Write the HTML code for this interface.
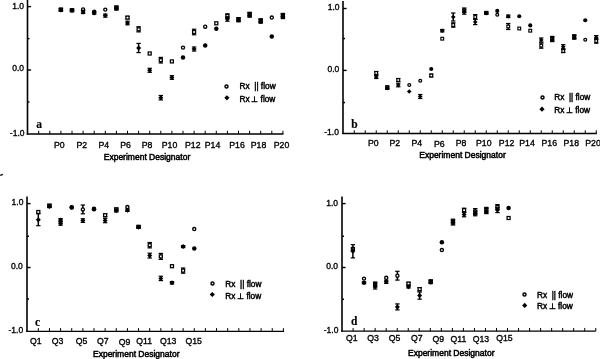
<!DOCTYPE html>
<html lang="en"><head><meta charset="utf-8"><title>Experiment Designator plots</title>
<style>
html,body{margin:0;padding:0;background:#fff;}
body{width:600px;height:359px;overflow:hidden;font-family:"Liberation Sans", sans-serif;}
svg{display:block;}
text{fill:#000;stroke:#000;stroke-width:0.35px;}
</style></head><body>
<svg width="600" height="359" viewBox="0 0 600 359" shape-rendering="geometricPrecision">
<rect width="600" height="359" fill="#fff"/>
<line x1="27.50" y1="0.00" x2="27.50" y2="134.60" stroke="#000" stroke-width="1.6"/>
<line x1="26.70" y1="134.00" x2="283.40" y2="134.00" stroke="#000" stroke-width="1.3"/>
<line x1="38.70" y1="134.00" x2="38.70" y2="130.80" stroke="#000" stroke-width="1.0"/>
<line x1="49.80" y1="134.00" x2="49.80" y2="130.80" stroke="#000" stroke-width="1.0"/>
<line x1="60.90" y1="134.00" x2="60.90" y2="130.80" stroke="#000" stroke-width="1.0"/>
<line x1="72.00" y1="134.00" x2="72.00" y2="130.80" stroke="#000" stroke-width="1.0"/>
<line x1="83.10" y1="134.00" x2="83.10" y2="130.80" stroke="#000" stroke-width="1.0"/>
<line x1="94.20" y1="134.00" x2="94.20" y2="130.80" stroke="#000" stroke-width="1.0"/>
<line x1="105.30" y1="134.00" x2="105.30" y2="130.80" stroke="#000" stroke-width="1.0"/>
<line x1="116.40" y1="134.00" x2="116.40" y2="130.80" stroke="#000" stroke-width="1.0"/>
<line x1="127.50" y1="134.00" x2="127.50" y2="130.80" stroke="#000" stroke-width="1.0"/>
<line x1="138.60" y1="134.00" x2="138.60" y2="130.80" stroke="#000" stroke-width="1.0"/>
<line x1="149.70" y1="134.00" x2="149.70" y2="130.80" stroke="#000" stroke-width="1.0"/>
<line x1="160.80" y1="134.00" x2="160.80" y2="130.80" stroke="#000" stroke-width="1.0"/>
<line x1="171.90" y1="134.00" x2="171.90" y2="130.80" stroke="#000" stroke-width="1.0"/>
<line x1="183.00" y1="134.00" x2="183.00" y2="130.80" stroke="#000" stroke-width="1.0"/>
<line x1="194.10" y1="134.00" x2="194.10" y2="130.80" stroke="#000" stroke-width="1.0"/>
<line x1="205.20" y1="134.00" x2="205.20" y2="130.80" stroke="#000" stroke-width="1.0"/>
<line x1="216.30" y1="134.00" x2="216.30" y2="130.80" stroke="#000" stroke-width="1.0"/>
<line x1="227.40" y1="134.00" x2="227.40" y2="130.80" stroke="#000" stroke-width="1.0"/>
<line x1="238.50" y1="134.00" x2="238.50" y2="130.80" stroke="#000" stroke-width="1.0"/>
<line x1="249.60" y1="134.00" x2="249.60" y2="130.80" stroke="#000" stroke-width="1.0"/>
<line x1="260.70" y1="134.00" x2="260.70" y2="130.80" stroke="#000" stroke-width="1.0"/>
<line x1="271.80" y1="134.00" x2="271.80" y2="130.80" stroke="#000" stroke-width="1.0"/>
<line x1="282.90" y1="134.00" x2="282.90" y2="130.80" stroke="#000" stroke-width="1.0"/>
<line x1="27.50" y1="6.60" x2="31.10" y2="6.60" stroke="#000" stroke-width="1.4"/>
<line x1="27.50" y1="38.60" x2="29.50" y2="38.60" stroke="#000" stroke-width="1.4"/>
<line x1="27.50" y1="70.00" x2="31.10" y2="70.00" stroke="#000" stroke-width="1.4"/>
<line x1="27.50" y1="102.00" x2="29.50" y2="102.00" stroke="#000" stroke-width="1.4"/>
<text x="59.25" y="148.00" font-size="8.7" text-anchor="middle" font-weight="normal" font-family='"Liberation Sans", sans-serif' >P0</text>
<text x="81.75" y="148.00" font-size="8.7" text-anchor="middle" font-weight="normal" font-family='"Liberation Sans", sans-serif' >P2</text>
<text x="103.75" y="148.00" font-size="8.7" text-anchor="middle" font-weight="normal" font-family='"Liberation Sans", sans-serif' >P4</text>
<text x="125.50" y="148.00" font-size="8.7" text-anchor="middle" font-weight="normal" font-family='"Liberation Sans", sans-serif' >P6</text>
<text x="147.00" y="148.00" font-size="8.7" text-anchor="middle" font-weight="normal" font-family='"Liberation Sans", sans-serif' >P8</text>
<text x="169.50" y="148.00" font-size="8.7" text-anchor="middle" font-weight="normal" font-family='"Liberation Sans", sans-serif' >P10</text>
<text x="192.80" y="148.00" font-size="8.7" text-anchor="middle" font-weight="normal" font-family='"Liberation Sans", sans-serif' >P12</text>
<text x="212.50" y="148.00" font-size="8.7" text-anchor="middle" font-weight="normal" font-family='"Liberation Sans", sans-serif' >P14</text>
<text x="237.00" y="148.00" font-size="8.7" text-anchor="middle" font-weight="normal" font-family='"Liberation Sans", sans-serif' >P16</text>
<text x="258.50" y="148.00" font-size="8.7" text-anchor="middle" font-weight="normal" font-family='"Liberation Sans", sans-serif' >P18</text>
<text x="281.50" y="148.00" font-size="8.7" text-anchor="middle" font-weight="normal" font-family='"Liberation Sans", sans-serif' >P20</text>
<text x="103.75" y="159.65" font-size="8.5" text-anchor="start" font-weight="normal" font-family='"Liberation Sans", sans-serif' style="stroke-width:0.5px">Experiment Designator</text>
<text x="39.00" y="128.00" font-size="11.5" text-anchor="middle" font-weight="bold" font-family='"Liberation Serif", serif' style="stroke-width:0.15px">a</text>
<text x="24.00" y="9.00" font-size="8.5" text-anchor="end" font-weight="normal" font-family='"Liberation Sans", sans-serif' >1.0</text>
<text x="24.00" y="71.40" font-size="8.5" text-anchor="end" font-weight="normal" font-family='"Liberation Sans", sans-serif' >0.0</text>
<text x="24.50" y="135.80" font-size="8.5" text-anchor="end" font-weight="normal" font-family='"Liberation Sans", sans-serif' >-1.0</text>
<circle cx="226.50" cy="86.50" r="1.50" fill="#fff" stroke="#000" stroke-width="1.50"/>
<path d="M226.90 95.20L229.50 97.80L226.90 100.40L224.30 97.80Z" fill="#000"/>
<text x="239.50" y="89.20" font-size="8.3" text-anchor="start" font-weight="normal" font-family='"Liberation Sans", sans-serif' style="stroke-width:0.45px">Rx&#160;&#160;|| flow</text>
<text x="239.50" y="101.60" font-size="8.3" text-anchor="start" font-weight="normal" font-family='"Liberation Sans", sans-serif' style="stroke-width:0.45px">Rx&#8201;&#8869;&#160;flow</text>
<line x1="60.90" y1="8.40" x2="60.90" y2="10.80" stroke="#000" stroke-width="1.5"/>
<line x1="58.70" y1="8.40" x2="63.10" y2="8.40" stroke="#000" stroke-width="1.2"/>
<line x1="58.70" y1="10.80" x2="63.10" y2="10.80" stroke="#000" stroke-width="1.2"/>
<rect x="59.40" y="8.10" width="3.00" height="3.00" fill="#fff" stroke="#000" stroke-width="1.25"/>
<line x1="60.90" y1="8.70" x2="60.90" y2="11.10" stroke="#000" stroke-width="1.5"/>
<line x1="58.70" y1="8.70" x2="63.10" y2="8.70" stroke="#000" stroke-width="1.2"/>
<line x1="58.70" y1="11.10" x2="63.10" y2="11.10" stroke="#000" stroke-width="1.2"/>
<path d="M60.90 7.40L63.40 9.90L60.90 12.40L58.40 9.90Z" fill="#000"/>
<line x1="72.00" y1="9.20" x2="72.00" y2="11.20" stroke="#000" stroke-width="1.5"/>
<line x1="69.80" y1="9.20" x2="74.20" y2="9.20" stroke="#000" stroke-width="1.2"/>
<line x1="69.80" y1="11.20" x2="74.20" y2="11.20" stroke="#000" stroke-width="1.2"/>
<rect x="70.50" y="8.70" width="3.00" height="3.00" fill="#fff" stroke="#000" stroke-width="1.25"/>
<line x1="72.00" y1="9.60" x2="72.00" y2="11.60" stroke="#000" stroke-width="1.5"/>
<line x1="69.80" y1="9.60" x2="74.20" y2="9.60" stroke="#000" stroke-width="1.2"/>
<line x1="69.80" y1="11.60" x2="74.20" y2="11.60" stroke="#000" stroke-width="1.2"/>
<path d="M72.00 8.10L74.50 10.60L72.00 13.10L69.50 10.60Z" fill="#000"/>
<circle cx="83.10" cy="9.40" r="1.55" fill="#fff" stroke="#000" stroke-width="1.35"/>
<line x1="83.10" y1="10.50" x2="83.10" y2="13.50" stroke="#000" stroke-width="1.5"/>
<line x1="80.90" y1="10.50" x2="85.30" y2="10.50" stroke="#000" stroke-width="1.2"/>
<line x1="80.90" y1="13.50" x2="85.30" y2="13.50" stroke="#000" stroke-width="1.2"/>
<path d="M83.10 9.50L85.60 12.00L83.10 14.50L80.60 12.00Z" fill="#000"/>
<circle cx="94.20" cy="11.60" r="1.55" fill="#fff" stroke="#000" stroke-width="1.35"/>
<line x1="94.20" y1="11.80" x2="94.20" y2="14.20" stroke="#000" stroke-width="1.5"/>
<line x1="92.00" y1="11.80" x2="96.40" y2="11.80" stroke="#000" stroke-width="1.2"/>
<line x1="92.00" y1="14.20" x2="96.40" y2="14.20" stroke="#000" stroke-width="1.2"/>
<path d="M94.20 10.50L96.70 13.00L94.20 15.50L91.70 13.00Z" fill="#000"/>
<circle cx="105.30" cy="9.60" r="1.55" fill="#fff" stroke="#000" stroke-width="1.35"/>
<line x1="105.30" y1="14.10" x2="105.30" y2="17.10" stroke="#000" stroke-width="1.5"/>
<line x1="103.10" y1="14.10" x2="107.50" y2="14.10" stroke="#000" stroke-width="1.2"/>
<line x1="103.10" y1="17.10" x2="107.50" y2="17.10" stroke="#000" stroke-width="1.2"/>
<path d="M105.30 13.10L107.80 15.60L105.30 18.10L102.80 15.60Z" fill="#000"/>
<line x1="116.40" y1="6.10" x2="116.40" y2="9.10" stroke="#000" stroke-width="1.5"/>
<line x1="114.20" y1="6.10" x2="118.60" y2="6.10" stroke="#000" stroke-width="1.2"/>
<line x1="114.20" y1="9.10" x2="118.60" y2="9.10" stroke="#000" stroke-width="1.2"/>
<rect x="114.90" y="6.10" width="3.00" height="3.00" fill="#fff" stroke="#000" stroke-width="1.25"/>
<line x1="116.40" y1="7.10" x2="116.40" y2="10.10" stroke="#000" stroke-width="1.5"/>
<line x1="114.20" y1="7.10" x2="118.60" y2="7.10" stroke="#000" stroke-width="1.2"/>
<line x1="114.20" y1="10.10" x2="118.60" y2="10.10" stroke="#000" stroke-width="1.2"/>
<path d="M116.40 6.10L118.90 8.60L116.40 11.10L113.90 8.60Z" fill="#000"/>
<line x1="127.50" y1="16.40" x2="127.50" y2="18.80" stroke="#000" stroke-width="1.5"/>
<line x1="125.30" y1="16.40" x2="129.70" y2="16.40" stroke="#000" stroke-width="1.2"/>
<line x1="125.30" y1="18.80" x2="129.70" y2="18.80" stroke="#000" stroke-width="1.2"/>
<rect x="126.00" y="16.10" width="3.00" height="3.00" fill="#fff" stroke="#000" stroke-width="1.25"/>
<line x1="127.50" y1="21.20" x2="127.50" y2="24.80" stroke="#000" stroke-width="1.5"/>
<line x1="125.30" y1="21.20" x2="129.70" y2="21.20" stroke="#000" stroke-width="1.2"/>
<line x1="125.30" y1="24.80" x2="129.70" y2="24.80" stroke="#000" stroke-width="1.2"/>
<path d="M127.50 20.50L130.00 23.00L127.50 25.50L125.00 23.00Z" fill="#000"/>
<line x1="138.60" y1="26.70" x2="138.60" y2="31.90" stroke="#000" stroke-width="1.5"/>
<line x1="136.40" y1="26.70" x2="140.80" y2="26.70" stroke="#000" stroke-width="1.2"/>
<line x1="136.40" y1="31.90" x2="140.80" y2="31.90" stroke="#000" stroke-width="1.2"/>
<rect x="137.10" y="27.80" width="3.00" height="3.00" fill="#fff" stroke="#000" stroke-width="1.25"/>
<line x1="138.60" y1="43.40" x2="138.60" y2="52.60" stroke="#000" stroke-width="1.5"/>
<line x1="136.40" y1="43.40" x2="140.80" y2="43.40" stroke="#000" stroke-width="1.2"/>
<line x1="136.40" y1="52.60" x2="140.80" y2="52.60" stroke="#000" stroke-width="1.2"/>
<path d="M138.60 45.50L141.10 48.00L138.60 50.50L136.10 48.00Z" fill="#000"/>
<rect x="148.20" y="52.00" width="3.00" height="3.00" fill="#fff" stroke="#000" stroke-width="1.25"/>
<line x1="149.70" y1="68.30" x2="149.70" y2="72.30" stroke="#000" stroke-width="1.5"/>
<line x1="147.50" y1="68.30" x2="151.90" y2="68.30" stroke="#000" stroke-width="1.2"/>
<line x1="147.50" y1="72.30" x2="151.90" y2="72.30" stroke="#000" stroke-width="1.2"/>
<path d="M149.70 67.80L152.20 70.30L149.70 72.80L147.20 70.30Z" fill="#000"/>
<line x1="160.80" y1="57.40" x2="160.80" y2="63.00" stroke="#000" stroke-width="1.5"/>
<line x1="158.60" y1="57.40" x2="163.00" y2="57.40" stroke="#000" stroke-width="1.2"/>
<line x1="158.60" y1="63.00" x2="163.00" y2="63.00" stroke="#000" stroke-width="1.2"/>
<rect x="159.30" y="58.70" width="3.00" height="3.00" fill="#fff" stroke="#000" stroke-width="1.25"/>
<line x1="160.80" y1="95.50" x2="160.80" y2="99.90" stroke="#000" stroke-width="1.5"/>
<line x1="158.60" y1="95.50" x2="163.00" y2="95.50" stroke="#000" stroke-width="1.2"/>
<line x1="158.60" y1="99.90" x2="163.00" y2="99.90" stroke="#000" stroke-width="1.2"/>
<path d="M160.80 95.20L163.30 97.70L160.80 100.20L158.30 97.70Z" fill="#000"/>
<rect x="170.40" y="59.90" width="3.00" height="3.00" fill="#fff" stroke="#000" stroke-width="1.25"/>
<line x1="171.90" y1="75.70" x2="171.90" y2="79.30" stroke="#000" stroke-width="1.5"/>
<line x1="169.70" y1="75.70" x2="174.10" y2="75.70" stroke="#000" stroke-width="1.2"/>
<line x1="169.70" y1="79.30" x2="174.10" y2="79.30" stroke="#000" stroke-width="1.2"/>
<path d="M171.90 75.00L174.40 77.50L171.90 80.00L169.40 77.50Z" fill="#000"/>
<circle cx="183.00" cy="47.60" r="1.55" fill="#fff" stroke="#000" stroke-width="1.35"/>
<circle cx="183.00" cy="57.60" r="2.25" fill="#000"/>
<line x1="194.10" y1="29.20" x2="194.10" y2="34.80" stroke="#000" stroke-width="1.5"/>
<line x1="191.90" y1="29.20" x2="196.30" y2="29.20" stroke="#000" stroke-width="1.2"/>
<line x1="191.90" y1="34.80" x2="196.30" y2="34.80" stroke="#000" stroke-width="1.2"/>
<rect x="192.60" y="30.50" width="3.00" height="3.00" fill="#fff" stroke="#000" stroke-width="1.25"/>
<line x1="194.10" y1="47.00" x2="194.10" y2="51.00" stroke="#000" stroke-width="1.5"/>
<line x1="191.90" y1="47.00" x2="196.30" y2="47.00" stroke="#000" stroke-width="1.2"/>
<line x1="191.90" y1="51.00" x2="196.30" y2="51.00" stroke="#000" stroke-width="1.2"/>
<path d="M194.10 46.50L196.60 49.00L194.10 51.50L191.60 49.00Z" fill="#000"/>
<circle cx="205.20" cy="26.70" r="1.55" fill="#fff" stroke="#000" stroke-width="1.35"/>
<circle cx="205.20" cy="45.40" r="2.25" fill="#000"/>
<rect x="214.80" y="21.80" width="3.00" height="3.00" fill="#fff" stroke="#000" stroke-width="1.25"/>
<circle cx="216.30" cy="28.80" r="2.25" fill="#000"/>
<line x1="227.40" y1="13.80" x2="227.40" y2="18.20" stroke="#000" stroke-width="1.5"/>
<line x1="225.20" y1="13.80" x2="229.60" y2="13.80" stroke="#000" stroke-width="1.2"/>
<line x1="225.20" y1="18.20" x2="229.60" y2="18.20" stroke="#000" stroke-width="1.2"/>
<rect x="225.90" y="14.50" width="3.00" height="3.00" fill="#fff" stroke="#000" stroke-width="1.25"/>
<line x1="227.40" y1="16.80" x2="227.40" y2="21.20" stroke="#000" stroke-width="1.5"/>
<line x1="225.20" y1="16.80" x2="229.60" y2="16.80" stroke="#000" stroke-width="1.2"/>
<line x1="225.20" y1="21.20" x2="229.60" y2="21.20" stroke="#000" stroke-width="1.2"/>
<path d="M227.40 16.50L229.90 19.00L227.40 21.50L224.90 19.00Z" fill="#000"/>
<line x1="238.50" y1="17.60" x2="238.50" y2="21.20" stroke="#000" stroke-width="1.5"/>
<line x1="236.30" y1="17.60" x2="240.70" y2="17.60" stroke="#000" stroke-width="1.2"/>
<line x1="236.30" y1="21.20" x2="240.70" y2="21.20" stroke="#000" stroke-width="1.2"/>
<rect x="237.00" y="17.90" width="3.00" height="3.00" fill="#fff" stroke="#000" stroke-width="1.25"/>
<line x1="238.50" y1="18.20" x2="238.50" y2="21.80" stroke="#000" stroke-width="1.5"/>
<line x1="236.30" y1="18.20" x2="240.70" y2="18.20" stroke="#000" stroke-width="1.2"/>
<line x1="236.30" y1="21.80" x2="240.70" y2="21.80" stroke="#000" stroke-width="1.2"/>
<path d="M238.50 17.50L241.00 20.00L238.50 22.50L236.00 20.00Z" fill="#000"/>
<line x1="249.60" y1="12.30" x2="249.60" y2="16.30" stroke="#000" stroke-width="1.5"/>
<line x1="247.40" y1="12.30" x2="251.80" y2="12.30" stroke="#000" stroke-width="1.2"/>
<line x1="247.40" y1="16.30" x2="251.80" y2="16.30" stroke="#000" stroke-width="1.2"/>
<rect x="248.10" y="12.80" width="3.00" height="3.00" fill="#fff" stroke="#000" stroke-width="1.25"/>
<line x1="249.60" y1="13.20" x2="249.60" y2="17.20" stroke="#000" stroke-width="1.5"/>
<line x1="247.40" y1="13.20" x2="251.80" y2="13.20" stroke="#000" stroke-width="1.2"/>
<line x1="247.40" y1="17.20" x2="251.80" y2="17.20" stroke="#000" stroke-width="1.2"/>
<path d="M249.60 12.70L252.10 15.20L249.60 17.70L247.10 15.20Z" fill="#000"/>
<line x1="260.70" y1="18.80" x2="260.70" y2="22.40" stroke="#000" stroke-width="1.5"/>
<line x1="258.50" y1="18.80" x2="262.90" y2="18.80" stroke="#000" stroke-width="1.2"/>
<line x1="258.50" y1="22.40" x2="262.90" y2="22.40" stroke="#000" stroke-width="1.2"/>
<rect x="259.20" y="19.10" width="3.00" height="3.00" fill="#fff" stroke="#000" stroke-width="1.25"/>
<line x1="260.70" y1="19.60" x2="260.70" y2="23.20" stroke="#000" stroke-width="1.5"/>
<line x1="258.50" y1="19.60" x2="262.90" y2="19.60" stroke="#000" stroke-width="1.2"/>
<line x1="258.50" y1="23.20" x2="262.90" y2="23.20" stroke="#000" stroke-width="1.2"/>
<path d="M260.70 18.90L263.20 21.40L260.70 23.90L258.20 21.40Z" fill="#000"/>
<circle cx="271.80" cy="17.50" r="1.55" fill="#fff" stroke="#000" stroke-width="1.35"/>
<circle cx="271.80" cy="36.50" r="2.25" fill="#000"/>
<line x1="282.90" y1="13.40" x2="282.90" y2="17.40" stroke="#000" stroke-width="1.5"/>
<line x1="280.70" y1="13.40" x2="285.10" y2="13.40" stroke="#000" stroke-width="1.2"/>
<line x1="280.70" y1="17.40" x2="285.10" y2="17.40" stroke="#000" stroke-width="1.2"/>
<rect x="281.40" y="13.90" width="3.00" height="3.00" fill="#fff" stroke="#000" stroke-width="1.25"/>
<line x1="282.90" y1="14.60" x2="282.90" y2="18.60" stroke="#000" stroke-width="1.5"/>
<line x1="280.70" y1="14.60" x2="285.10" y2="14.60" stroke="#000" stroke-width="1.2"/>
<line x1="280.70" y1="18.60" x2="285.10" y2="18.60" stroke="#000" stroke-width="1.2"/>
<path d="M282.90 14.10L285.40 16.60L282.90 19.10L280.40 16.60Z" fill="#000"/>
<line x1="343.00" y1="1.00" x2="343.00" y2="134.10" stroke="#000" stroke-width="1.6"/>
<line x1="342.20" y1="133.50" x2="596.80" y2="133.50" stroke="#000" stroke-width="1.3"/>
<line x1="354.25" y1="133.50" x2="354.25" y2="130.30" stroke="#000" stroke-width="1.0"/>
<line x1="365.25" y1="133.50" x2="365.25" y2="130.30" stroke="#000" stroke-width="1.0"/>
<line x1="376.25" y1="133.50" x2="376.25" y2="130.30" stroke="#000" stroke-width="1.0"/>
<line x1="387.25" y1="133.50" x2="387.25" y2="130.30" stroke="#000" stroke-width="1.0"/>
<line x1="398.25" y1="133.50" x2="398.25" y2="130.30" stroke="#000" stroke-width="1.0"/>
<line x1="409.25" y1="133.50" x2="409.25" y2="130.30" stroke="#000" stroke-width="1.0"/>
<line x1="420.25" y1="133.50" x2="420.25" y2="130.30" stroke="#000" stroke-width="1.0"/>
<line x1="431.25" y1="133.50" x2="431.25" y2="130.30" stroke="#000" stroke-width="1.0"/>
<line x1="442.25" y1="133.50" x2="442.25" y2="130.30" stroke="#000" stroke-width="1.0"/>
<line x1="453.25" y1="133.50" x2="453.25" y2="130.30" stroke="#000" stroke-width="1.0"/>
<line x1="464.25" y1="133.50" x2="464.25" y2="130.30" stroke="#000" stroke-width="1.0"/>
<line x1="475.25" y1="133.50" x2="475.25" y2="130.30" stroke="#000" stroke-width="1.0"/>
<line x1="486.25" y1="133.50" x2="486.25" y2="130.30" stroke="#000" stroke-width="1.0"/>
<line x1="497.25" y1="133.50" x2="497.25" y2="130.30" stroke="#000" stroke-width="1.0"/>
<line x1="508.25" y1="133.50" x2="508.25" y2="130.30" stroke="#000" stroke-width="1.0"/>
<line x1="519.25" y1="133.50" x2="519.25" y2="130.30" stroke="#000" stroke-width="1.0"/>
<line x1="530.25" y1="133.50" x2="530.25" y2="130.30" stroke="#000" stroke-width="1.0"/>
<line x1="541.25" y1="133.50" x2="541.25" y2="130.30" stroke="#000" stroke-width="1.0"/>
<line x1="552.25" y1="133.50" x2="552.25" y2="130.30" stroke="#000" stroke-width="1.0"/>
<line x1="563.25" y1="133.50" x2="563.25" y2="130.30" stroke="#000" stroke-width="1.0"/>
<line x1="574.25" y1="133.50" x2="574.25" y2="130.30" stroke="#000" stroke-width="1.0"/>
<line x1="585.25" y1="133.50" x2="585.25" y2="130.30" stroke="#000" stroke-width="1.0"/>
<line x1="596.25" y1="133.50" x2="596.25" y2="130.30" stroke="#000" stroke-width="1.0"/>
<line x1="343.00" y1="8.50" x2="346.60" y2="8.50" stroke="#000" stroke-width="1.4"/>
<line x1="343.00" y1="38.50" x2="345.00" y2="38.50" stroke="#000" stroke-width="1.4"/>
<line x1="343.00" y1="70.40" x2="346.60" y2="70.40" stroke="#000" stroke-width="1.4"/>
<line x1="343.00" y1="102.50" x2="345.00" y2="102.50" stroke="#000" stroke-width="1.4"/>
<text x="373.25" y="145.80" font-size="8.7" text-anchor="middle" font-weight="normal" font-family='"Liberation Sans", sans-serif' >P0</text>
<text x="394.75" y="145.80" font-size="8.7" text-anchor="middle" font-weight="normal" font-family='"Liberation Sans", sans-serif' >P2</text>
<text x="416.75" y="145.80" font-size="8.7" text-anchor="middle" font-weight="normal" font-family='"Liberation Sans", sans-serif' >P4</text>
<text x="439.25" y="146.50" font-size="8.7" text-anchor="middle" font-weight="normal" font-family='"Liberation Sans", sans-serif' >P6</text>
<text x="461.00" y="145.50" font-size="8.7" text-anchor="middle" font-weight="normal" font-family='"Liberation Sans", sans-serif' >P8</text>
<text x="483.75" y="145.80" font-size="8.7" text-anchor="middle" font-weight="normal" font-family='"Liberation Sans", sans-serif' >P10</text>
<text x="506.60" y="145.80" font-size="8.7" text-anchor="middle" font-weight="normal" font-family='"Liberation Sans", sans-serif' >P12</text>
<text x="527.00" y="145.80" font-size="8.7" text-anchor="middle" font-weight="normal" font-family='"Liberation Sans", sans-serif' >P14</text>
<text x="549.25" y="145.80" font-size="8.7" text-anchor="middle" font-weight="normal" font-family='"Liberation Sans", sans-serif' >P16</text>
<text x="571.25" y="145.80" font-size="8.7" text-anchor="middle" font-weight="normal" font-family='"Liberation Sans", sans-serif' >P18</text>
<text x="593.00" y="145.80" font-size="8.7" text-anchor="middle" font-weight="normal" font-family='"Liberation Sans", sans-serif' >P20</text>
<text x="419.25" y="157.90" font-size="8.5" text-anchor="start" font-weight="normal" font-family='"Liberation Sans", sans-serif' style="stroke-width:0.5px">Experiment Designator</text>
<text x="354.50" y="127.50" font-size="11.5" text-anchor="middle" font-weight="bold" font-family='"Liberation Serif", serif' style="stroke-width:0.15px">b</text>
<text x="339.60" y="9.80" font-size="8.5" text-anchor="end" font-weight="normal" font-family='"Liberation Sans", sans-serif' >1.0</text>
<text x="339.30" y="72.30" font-size="8.5" text-anchor="end" font-weight="normal" font-family='"Liberation Sans", sans-serif' >0.0</text>
<text x="338.90" y="135.30" font-size="8.5" text-anchor="end" font-weight="normal" font-family='"Liberation Sans", sans-serif' >-1.0</text>
<circle cx="542.50" cy="97.50" r="1.50" fill="#fff" stroke="#000" stroke-width="1.50"/>
<path d="M542.00 106.60L544.60 109.20L542.00 111.80L539.40 109.20Z" fill="#000"/>
<text x="554.20" y="99.90" font-size="8.3" text-anchor="start" font-weight="normal" font-family='"Liberation Sans", sans-serif' style="stroke-width:0.45px">Rx&#160;&#160;|| flow</text>
<text x="554.20" y="112.90" font-size="8.3" text-anchor="start" font-weight="normal" font-family='"Liberation Sans", sans-serif' style="stroke-width:0.45px">Rx&#8201;&#8869;&#160;flow</text>
<line x1="376.25" y1="71.50" x2="376.25" y2="74.50" stroke="#000" stroke-width="1.5"/>
<line x1="374.05" y1="71.50" x2="378.45" y2="71.50" stroke="#000" stroke-width="1.2"/>
<line x1="374.05" y1="74.50" x2="378.45" y2="74.50" stroke="#000" stroke-width="1.2"/>
<rect x="374.87" y="71.62" width="2.76" height="2.76" fill="#fff" stroke="#000" stroke-width="1.15"/>
<line x1="376.25" y1="75.50" x2="376.25" y2="78.50" stroke="#000" stroke-width="1.5"/>
<line x1="374.05" y1="75.50" x2="378.45" y2="75.50" stroke="#000" stroke-width="1.2"/>
<line x1="374.05" y1="78.50" x2="378.45" y2="78.50" stroke="#000" stroke-width="1.2"/>
<path d="M376.25 74.70L378.55 77.00L376.25 79.30L373.95 77.00Z" fill="#000"/>
<line x1="387.25" y1="86.00" x2="387.25" y2="88.40" stroke="#000" stroke-width="1.5"/>
<line x1="385.05" y1="86.00" x2="389.45" y2="86.00" stroke="#000" stroke-width="1.2"/>
<line x1="385.05" y1="88.40" x2="389.45" y2="88.40" stroke="#000" stroke-width="1.2"/>
<rect x="385.87" y="85.82" width="2.76" height="2.76" fill="#fff" stroke="#000" stroke-width="1.15"/>
<line x1="387.25" y1="87.00" x2="387.25" y2="89.40" stroke="#000" stroke-width="1.5"/>
<line x1="385.05" y1="87.00" x2="389.45" y2="87.00" stroke="#000" stroke-width="1.2"/>
<line x1="385.05" y1="89.40" x2="389.45" y2="89.40" stroke="#000" stroke-width="1.2"/>
<path d="M387.25 85.90L389.55 88.20L387.25 90.50L384.95 88.20Z" fill="#000"/>
<line x1="398.25" y1="78.50" x2="398.25" y2="81.50" stroke="#000" stroke-width="1.5"/>
<line x1="396.05" y1="78.50" x2="400.45" y2="78.50" stroke="#000" stroke-width="1.2"/>
<line x1="396.05" y1="81.50" x2="400.45" y2="81.50" stroke="#000" stroke-width="1.2"/>
<rect x="396.87" y="78.62" width="2.76" height="2.76" fill="#fff" stroke="#000" stroke-width="1.15"/>
<line x1="398.25" y1="83.20" x2="398.25" y2="86.80" stroke="#000" stroke-width="1.5"/>
<line x1="396.05" y1="83.20" x2="400.45" y2="83.20" stroke="#000" stroke-width="1.2"/>
<line x1="396.05" y1="86.80" x2="400.45" y2="86.80" stroke="#000" stroke-width="1.2"/>
<path d="M398.25 82.70L400.55 85.00L398.25 87.30L395.95 85.00Z" fill="#000"/>
<circle cx="409.25" cy="85.00" r="1.43" fill="#fff" stroke="#000" stroke-width="1.24"/>
<path d="M409.25 89.20L411.55 91.50L409.25 93.80L406.95 91.50Z" fill="#000"/>
<circle cx="420.25" cy="80.70" r="1.43" fill="#fff" stroke="#000" stroke-width="1.24"/>
<line x1="420.25" y1="94.50" x2="420.25" y2="98.50" stroke="#000" stroke-width="1.5"/>
<line x1="418.05" y1="94.50" x2="422.45" y2="94.50" stroke="#000" stroke-width="1.2"/>
<line x1="418.05" y1="98.50" x2="422.45" y2="98.50" stroke="#000" stroke-width="1.2"/>
<path d="M420.25 94.20L422.55 96.50L420.25 98.80L417.95 96.50Z" fill="#000"/>
<circle cx="431.25" cy="69.00" r="2.07" fill="#000"/>
<line x1="431.25" y1="74.10" x2="431.25" y2="76.90" stroke="#000" stroke-width="1.5"/>
<line x1="429.05" y1="74.10" x2="433.45" y2="74.10" stroke="#000" stroke-width="1.2"/>
<line x1="429.05" y1="76.90" x2="433.45" y2="76.90" stroke="#000" stroke-width="1.2"/>
<rect x="429.87" y="74.12" width="2.76" height="2.76" fill="#fff" stroke="#000" stroke-width="1.15"/>
<line x1="442.25" y1="29.50" x2="442.25" y2="31.90" stroke="#000" stroke-width="1.5"/>
<line x1="440.05" y1="29.50" x2="444.45" y2="29.50" stroke="#000" stroke-width="1.2"/>
<line x1="440.05" y1="31.90" x2="444.45" y2="31.90" stroke="#000" stroke-width="1.2"/>
<path d="M442.25 28.40L444.55 30.70L442.25 33.00L439.95 30.70Z" fill="#000"/>
<rect x="440.87" y="37.32" width="2.76" height="2.76" fill="#fff" stroke="#000" stroke-width="1.15"/>
<line x1="453.25" y1="13.00" x2="453.25" y2="21.00" stroke="#000" stroke-width="1.5"/>
<line x1="451.05" y1="13.00" x2="455.45" y2="13.00" stroke="#000" stroke-width="1.2"/>
<line x1="451.05" y1="21.00" x2="455.45" y2="21.00" stroke="#000" stroke-width="1.2"/>
<path d="M453.25 14.70L455.55 17.00L453.25 19.30L450.95 17.00Z" fill="#000"/>
<line x1="453.25" y1="22.80" x2="453.25" y2="27.20" stroke="#000" stroke-width="1.5"/>
<line x1="451.05" y1="22.80" x2="455.45" y2="22.80" stroke="#000" stroke-width="1.2"/>
<line x1="451.05" y1="27.20" x2="455.45" y2="27.20" stroke="#000" stroke-width="1.2"/>
<rect x="451.87" y="23.62" width="2.76" height="2.76" fill="#fff" stroke="#000" stroke-width="1.15"/>
<line x1="464.25" y1="8.00" x2="464.25" y2="12.40" stroke="#000" stroke-width="1.5"/>
<line x1="462.05" y1="8.00" x2="466.45" y2="8.00" stroke="#000" stroke-width="1.2"/>
<line x1="462.05" y1="12.40" x2="466.45" y2="12.40" stroke="#000" stroke-width="1.2"/>
<rect x="462.87" y="8.82" width="2.76" height="2.76" fill="#fff" stroke="#000" stroke-width="1.15"/>
<line x1="464.25" y1="9.80" x2="464.25" y2="14.20" stroke="#000" stroke-width="1.5"/>
<line x1="462.05" y1="9.80" x2="466.45" y2="9.80" stroke="#000" stroke-width="1.2"/>
<line x1="462.05" y1="14.20" x2="466.45" y2="14.20" stroke="#000" stroke-width="1.2"/>
<path d="M464.25 9.70L466.55 12.00L464.25 14.30L461.95 12.00Z" fill="#000"/>
<line x1="475.25" y1="14.60" x2="475.25" y2="19.40" stroke="#000" stroke-width="1.5"/>
<line x1="473.05" y1="14.60" x2="477.45" y2="14.60" stroke="#000" stroke-width="1.2"/>
<line x1="473.05" y1="19.40" x2="477.45" y2="19.40" stroke="#000" stroke-width="1.2"/>
<rect x="473.87" y="15.62" width="2.76" height="2.76" fill="#fff" stroke="#000" stroke-width="1.15"/>
<line x1="475.25" y1="19.40" x2="475.25" y2="24.60" stroke="#000" stroke-width="1.5"/>
<line x1="473.05" y1="19.40" x2="477.45" y2="19.40" stroke="#000" stroke-width="1.2"/>
<line x1="473.05" y1="24.60" x2="477.45" y2="24.60" stroke="#000" stroke-width="1.2"/>
<path d="M475.25 19.70L477.55 22.00L475.25 24.30L472.95 22.00Z" fill="#000"/>
<line x1="486.25" y1="11.80" x2="486.25" y2="13.80" stroke="#000" stroke-width="1.5"/>
<line x1="484.05" y1="11.80" x2="488.45" y2="11.80" stroke="#000" stroke-width="1.2"/>
<line x1="484.05" y1="13.80" x2="488.45" y2="13.80" stroke="#000" stroke-width="1.2"/>
<rect x="484.87" y="11.42" width="2.76" height="2.76" fill="#fff" stroke="#000" stroke-width="1.15"/>
<line x1="486.25" y1="12.30" x2="486.25" y2="14.30" stroke="#000" stroke-width="1.5"/>
<line x1="484.05" y1="12.30" x2="488.45" y2="12.30" stroke="#000" stroke-width="1.2"/>
<line x1="484.05" y1="14.30" x2="488.45" y2="14.30" stroke="#000" stroke-width="1.2"/>
<path d="M486.25 11.00L488.55 13.30L486.25 15.60L483.95 13.30Z" fill="#000"/>
<circle cx="497.25" cy="10.90" r="2.07" fill="#000"/>
<circle cx="497.25" cy="14.80" r="1.43" fill="#fff" stroke="#000" stroke-width="1.24"/>
<line x1="508.25" y1="15.10" x2="508.25" y2="17.50" stroke="#000" stroke-width="1.5"/>
<line x1="506.05" y1="15.10" x2="510.45" y2="15.10" stroke="#000" stroke-width="1.2"/>
<line x1="506.05" y1="17.50" x2="510.45" y2="17.50" stroke="#000" stroke-width="1.2"/>
<path d="M508.25 14.00L510.55 16.30L508.25 18.60L505.95 16.30Z" fill="#000"/>
<line x1="508.25" y1="23.50" x2="508.25" y2="29.50" stroke="#000" stroke-width="1.5"/>
<line x1="506.05" y1="23.50" x2="510.45" y2="23.50" stroke="#000" stroke-width="1.2"/>
<line x1="506.05" y1="29.50" x2="510.45" y2="29.50" stroke="#000" stroke-width="1.2"/>
<rect x="506.87" y="25.12" width="2.76" height="2.76" fill="#fff" stroke="#000" stroke-width="1.15"/>
<circle cx="519.25" cy="16.30" r="2.07" fill="#000"/>
<rect x="517.87" y="27.12" width="2.76" height="2.76" fill="#fff" stroke="#000" stroke-width="1.15"/>
<circle cx="530.25" cy="25.40" r="2.07" fill="#000"/>
<rect x="528.87" y="29.32" width="2.76" height="2.76" fill="#fff" stroke="#000" stroke-width="1.15"/>
<line x1="541.25" y1="38.00" x2="541.25" y2="42.00" stroke="#000" stroke-width="1.5"/>
<line x1="539.05" y1="38.00" x2="543.45" y2="38.00" stroke="#000" stroke-width="1.2"/>
<line x1="539.05" y1="42.00" x2="543.45" y2="42.00" stroke="#000" stroke-width="1.2"/>
<path d="M541.25 37.70L543.55 40.00L541.25 42.30L538.95 40.00Z" fill="#000"/>
<line x1="541.25" y1="43.00" x2="541.25" y2="48.20" stroke="#000" stroke-width="1.5"/>
<line x1="539.05" y1="43.00" x2="543.45" y2="43.00" stroke="#000" stroke-width="1.2"/>
<line x1="539.05" y1="48.20" x2="543.45" y2="48.20" stroke="#000" stroke-width="1.2"/>
<rect x="539.87" y="44.22" width="2.76" height="2.76" fill="#fff" stroke="#000" stroke-width="1.15"/>
<line x1="552.25" y1="36.40" x2="552.25" y2="40.40" stroke="#000" stroke-width="1.5"/>
<line x1="550.05" y1="36.40" x2="554.45" y2="36.40" stroke="#000" stroke-width="1.2"/>
<line x1="550.05" y1="40.40" x2="554.45" y2="40.40" stroke="#000" stroke-width="1.2"/>
<rect x="550.87" y="37.02" width="2.76" height="2.76" fill="#fff" stroke="#000" stroke-width="1.15"/>
<line x1="552.25" y1="37.60" x2="552.25" y2="41.60" stroke="#000" stroke-width="1.5"/>
<line x1="550.05" y1="37.60" x2="554.45" y2="37.60" stroke="#000" stroke-width="1.2"/>
<line x1="550.05" y1="41.60" x2="554.45" y2="41.60" stroke="#000" stroke-width="1.2"/>
<path d="M552.25 37.30L554.55 39.60L552.25 41.90L549.95 39.60Z" fill="#000"/>
<line x1="563.25" y1="49.40" x2="563.25" y2="52.60" stroke="#000" stroke-width="1.5"/>
<line x1="561.05" y1="49.40" x2="565.45" y2="49.40" stroke="#000" stroke-width="1.2"/>
<line x1="561.05" y1="52.60" x2="565.45" y2="52.60" stroke="#000" stroke-width="1.2"/>
<rect x="561.87" y="49.62" width="2.76" height="2.76" fill="#fff" stroke="#000" stroke-width="1.15"/>
<line x1="563.25" y1="44.70" x2="563.25" y2="48.70" stroke="#000" stroke-width="1.5"/>
<line x1="561.05" y1="44.70" x2="565.45" y2="44.70" stroke="#000" stroke-width="1.2"/>
<line x1="561.05" y1="48.70" x2="565.45" y2="48.70" stroke="#000" stroke-width="1.2"/>
<path d="M563.25 44.40L565.55 46.70L563.25 49.00L560.95 46.70Z" fill="#000"/>
<line x1="574.25" y1="34.80" x2="574.25" y2="38.40" stroke="#000" stroke-width="1.5"/>
<line x1="572.05" y1="34.80" x2="576.45" y2="34.80" stroke="#000" stroke-width="1.2"/>
<line x1="572.05" y1="38.40" x2="576.45" y2="38.40" stroke="#000" stroke-width="1.2"/>
<rect x="572.87" y="35.22" width="2.76" height="2.76" fill="#fff" stroke="#000" stroke-width="1.15"/>
<line x1="574.25" y1="35.60" x2="574.25" y2="39.20" stroke="#000" stroke-width="1.5"/>
<line x1="572.05" y1="35.60" x2="576.45" y2="35.60" stroke="#000" stroke-width="1.2"/>
<line x1="572.05" y1="39.20" x2="576.45" y2="39.20" stroke="#000" stroke-width="1.2"/>
<path d="M574.25 35.10L576.55 37.40L574.25 39.70L571.95 37.40Z" fill="#000"/>
<circle cx="585.25" cy="20.20" r="2.07" fill="#000"/>
<circle cx="585.25" cy="39.80" r="1.43" fill="#fff" stroke="#000" stroke-width="1.24"/>
<line x1="596.25" y1="35.60" x2="596.25" y2="39.20" stroke="#000" stroke-width="1.5"/>
<line x1="594.05" y1="35.60" x2="598.45" y2="35.60" stroke="#000" stroke-width="1.2"/>
<line x1="594.05" y1="39.20" x2="598.45" y2="39.20" stroke="#000" stroke-width="1.2"/>
<path d="M596.25 35.10L598.55 37.40L596.25 39.70L593.95 37.40Z" fill="#000"/>
<line x1="596.25" y1="38.80" x2="596.25" y2="43.20" stroke="#000" stroke-width="1.5"/>
<line x1="594.05" y1="38.80" x2="598.45" y2="38.80" stroke="#000" stroke-width="1.2"/>
<line x1="594.05" y1="43.20" x2="598.45" y2="43.20" stroke="#000" stroke-width="1.2"/>
<rect x="594.87" y="39.62" width="2.76" height="2.76" fill="#fff" stroke="#000" stroke-width="1.15"/>
<line x1="27.00" y1="196.50" x2="27.00" y2="331.90" stroke="#000" stroke-width="1.6"/>
<line x1="26.20" y1="331.30" x2="284.10" y2="331.30" stroke="#000" stroke-width="1.3"/>
<line x1="38.30" y1="331.30" x2="38.30" y2="328.10" stroke="#000" stroke-width="1.0"/>
<line x1="49.44" y1="331.30" x2="49.44" y2="328.10" stroke="#000" stroke-width="1.0"/>
<line x1="60.58" y1="331.30" x2="60.58" y2="328.10" stroke="#000" stroke-width="1.0"/>
<line x1="71.72" y1="331.30" x2="71.72" y2="328.10" stroke="#000" stroke-width="1.0"/>
<line x1="82.86" y1="331.30" x2="82.86" y2="328.10" stroke="#000" stroke-width="1.0"/>
<line x1="94.00" y1="331.30" x2="94.00" y2="328.10" stroke="#000" stroke-width="1.0"/>
<line x1="105.14" y1="331.30" x2="105.14" y2="328.10" stroke="#000" stroke-width="1.0"/>
<line x1="116.28" y1="331.30" x2="116.28" y2="328.10" stroke="#000" stroke-width="1.0"/>
<line x1="127.42" y1="331.30" x2="127.42" y2="328.10" stroke="#000" stroke-width="1.0"/>
<line x1="138.56" y1="331.30" x2="138.56" y2="328.10" stroke="#000" stroke-width="1.0"/>
<line x1="149.70" y1="331.30" x2="149.70" y2="328.10" stroke="#000" stroke-width="1.0"/>
<line x1="160.84" y1="331.30" x2="160.84" y2="328.10" stroke="#000" stroke-width="1.0"/>
<line x1="171.98" y1="331.30" x2="171.98" y2="328.10" stroke="#000" stroke-width="1.0"/>
<line x1="183.12" y1="331.30" x2="183.12" y2="328.10" stroke="#000" stroke-width="1.0"/>
<line x1="194.26" y1="331.30" x2="194.26" y2="328.10" stroke="#000" stroke-width="1.0"/>
<line x1="205.40" y1="331.30" x2="205.40" y2="328.10" stroke="#000" stroke-width="1.0"/>
<line x1="216.54" y1="331.30" x2="216.54" y2="328.10" stroke="#000" stroke-width="1.0"/>
<line x1="227.68" y1="331.30" x2="227.68" y2="328.10" stroke="#000" stroke-width="1.0"/>
<line x1="238.82" y1="331.30" x2="238.82" y2="328.10" stroke="#000" stroke-width="1.0"/>
<line x1="249.96" y1="331.30" x2="249.96" y2="328.10" stroke="#000" stroke-width="1.0"/>
<line x1="261.10" y1="331.30" x2="261.10" y2="328.10" stroke="#000" stroke-width="1.0"/>
<line x1="272.24" y1="331.30" x2="272.24" y2="328.10" stroke="#000" stroke-width="1.0"/>
<line x1="283.38" y1="331.30" x2="283.38" y2="328.10" stroke="#000" stroke-width="1.0"/>
<line x1="27.00" y1="203.60" x2="30.60" y2="203.60" stroke="#000" stroke-width="1.4"/>
<line x1="27.00" y1="236.20" x2="29.00" y2="236.20" stroke="#000" stroke-width="1.4"/>
<line x1="27.00" y1="267.50" x2="30.60" y2="267.50" stroke="#000" stroke-width="1.4"/>
<line x1="27.00" y1="299.00" x2="29.00" y2="299.00" stroke="#000" stroke-width="1.4"/>
<text x="35.75" y="343.50" font-size="8.7" text-anchor="middle" font-weight="normal" font-family='"Liberation Sans", sans-serif' >Q1</text>
<text x="57.50" y="343.50" font-size="8.7" text-anchor="middle" font-weight="normal" font-family='"Liberation Sans", sans-serif' >Q3</text>
<text x="81.50" y="343.50" font-size="8.7" text-anchor="middle" font-weight="normal" font-family='"Liberation Sans", sans-serif' >Q5</text>
<text x="102.75" y="343.50" font-size="8.7" text-anchor="middle" font-weight="normal" font-family='"Liberation Sans", sans-serif' >Q7</text>
<text x="124.50" y="344.50" font-size="8.7" text-anchor="middle" font-weight="normal" font-family='"Liberation Sans", sans-serif' >Q9</text>
<text x="144.20" y="343.50" font-size="8.7" text-anchor="middle" font-weight="normal" font-family='"Liberation Sans", sans-serif' >Q11</text>
<text x="168.20" y="343.50" font-size="8.7" text-anchor="middle" font-weight="normal" font-family='"Liberation Sans", sans-serif' >Q13</text>
<text x="193.70" y="343.50" font-size="8.7" text-anchor="middle" font-weight="normal" font-family='"Liberation Sans", sans-serif' >Q15</text>
<text x="93.00" y="356.70" font-size="8.5" text-anchor="start" font-weight="normal" font-family='"Liberation Sans", sans-serif' style="stroke-width:0.5px">Experiment Designator</text>
<text x="37.50" y="325.70" font-size="11.5" text-anchor="middle" font-weight="bold" font-family='"Liberation Serif", serif' style="stroke-width:0.15px">c</text>
<text x="23.40" y="205.30" font-size="8.5" text-anchor="end" font-weight="normal" font-family='"Liberation Sans", sans-serif' >1.0</text>
<text x="22.80" y="268.50" font-size="8.5" text-anchor="end" font-weight="normal" font-family='"Liberation Sans", sans-serif' >0.0</text>
<text x="23.20" y="332.50" font-size="8.5" text-anchor="end" font-weight="normal" font-family='"Liberation Sans", sans-serif' >-1.0</text>
<circle cx="212.50" cy="283.50" r="1.50" fill="#fff" stroke="#000" stroke-width="1.50"/>
<path d="M212.30 291.90L214.90 294.50L212.30 297.10L209.70 294.50Z" fill="#000"/>
<text x="225.30" y="286.90" font-size="8.3" text-anchor="start" font-weight="normal" font-family='"Liberation Sans", sans-serif' style="stroke-width:0.45px">Rx&#160;&#160;|| flow</text>
<text x="225.30" y="299.30" font-size="8.3" text-anchor="start" font-weight="normal" font-family='"Liberation Sans", sans-serif' style="stroke-width:0.45px">Rx&#8201;&#8869;&#160;flow</text>
<rect x="36.80" y="210.50" width="3.00" height="3.00" fill="#fff" stroke="#000" stroke-width="1.25"/>
<line x1="38.30" y1="213.70" x2="38.30" y2="225.70" stroke="#000" stroke-width="1.5"/>
<line x1="36.10" y1="213.70" x2="40.50" y2="213.70" stroke="#000" stroke-width="1.2"/>
<line x1="36.10" y1="225.70" x2="40.50" y2="225.70" stroke="#000" stroke-width="1.2"/>
<path d="M38.30 217.20L40.80 219.70L38.30 222.20L35.80 219.70Z" fill="#000"/>
<line x1="49.44" y1="204.40" x2="49.44" y2="206.80" stroke="#000" stroke-width="1.5"/>
<line x1="47.24" y1="204.40" x2="51.64" y2="204.40" stroke="#000" stroke-width="1.2"/>
<line x1="47.24" y1="206.80" x2="51.64" y2="206.80" stroke="#000" stroke-width="1.2"/>
<rect x="47.94" y="204.10" width="3.00" height="3.00" fill="#fff" stroke="#000" stroke-width="1.25"/>
<line x1="49.44" y1="205.20" x2="49.44" y2="207.60" stroke="#000" stroke-width="1.5"/>
<line x1="47.24" y1="205.20" x2="51.64" y2="205.20" stroke="#000" stroke-width="1.2"/>
<line x1="47.24" y1="207.60" x2="51.64" y2="207.60" stroke="#000" stroke-width="1.2"/>
<path d="M49.44 203.90L51.94 206.40L49.44 208.90L46.94 206.40Z" fill="#000"/>
<line x1="60.58" y1="218.60" x2="60.58" y2="221.40" stroke="#000" stroke-width="1.5"/>
<line x1="58.38" y1="218.60" x2="62.78" y2="218.60" stroke="#000" stroke-width="1.2"/>
<line x1="58.38" y1="221.40" x2="62.78" y2="221.40" stroke="#000" stroke-width="1.2"/>
<path d="M60.58 217.50L63.08 220.00L60.58 222.50L58.08 220.00Z" fill="#000"/>
<line x1="60.58" y1="222.00" x2="60.58" y2="225.20" stroke="#000" stroke-width="1.5"/>
<line x1="58.38" y1="222.00" x2="62.78" y2="222.00" stroke="#000" stroke-width="1.2"/>
<line x1="58.38" y1="225.20" x2="62.78" y2="225.20" stroke="#000" stroke-width="1.2"/>
<path d="M60.58 221.10L63.08 223.60L60.58 226.10L58.08 223.60Z" fill="#000"/>
<circle cx="71.72" cy="207.20" r="1.55" fill="#fff" stroke="#000" stroke-width="1.35"/>
<circle cx="71.72" cy="207.60" r="2.25" fill="#000"/>
<line x1="82.86" y1="205.00" x2="82.86" y2="213.80" stroke="#000" stroke-width="1.5"/>
<line x1="80.66" y1="205.00" x2="85.06" y2="205.00" stroke="#000" stroke-width="1.2"/>
<line x1="80.66" y1="213.80" x2="85.06" y2="213.80" stroke="#000" stroke-width="1.2"/>
<circle cx="82.86" cy="209.40" r="1.55" fill="#fff" stroke="#000" stroke-width="1.35"/>
<line x1="82.86" y1="218.80" x2="82.86" y2="222.40" stroke="#000" stroke-width="1.5"/>
<line x1="80.66" y1="218.80" x2="85.06" y2="218.80" stroke="#000" stroke-width="1.2"/>
<line x1="80.66" y1="222.40" x2="85.06" y2="222.40" stroke="#000" stroke-width="1.2"/>
<path d="M82.86 218.10L85.36 220.60L82.86 223.10L80.36 220.60Z" fill="#000"/>
<circle cx="94.00" cy="208.80" r="1.55" fill="#fff" stroke="#000" stroke-width="1.35"/>
<circle cx="94.00" cy="209.20" r="2.25" fill="#000"/>
<line x1="105.14" y1="213.80" x2="105.14" y2="216.60" stroke="#000" stroke-width="1.5"/>
<line x1="102.94" y1="213.80" x2="107.34" y2="213.80" stroke="#000" stroke-width="1.2"/>
<line x1="102.94" y1="216.60" x2="107.34" y2="216.60" stroke="#000" stroke-width="1.2"/>
<rect x="103.64" y="213.70" width="3.00" height="3.00" fill="#fff" stroke="#000" stroke-width="1.25"/>
<line x1="105.14" y1="218.30" x2="105.14" y2="222.70" stroke="#000" stroke-width="1.5"/>
<line x1="102.94" y1="218.30" x2="107.34" y2="218.30" stroke="#000" stroke-width="1.2"/>
<line x1="102.94" y1="222.70" x2="107.34" y2="222.70" stroke="#000" stroke-width="1.2"/>
<path d="M105.14 218.00L107.64 220.50L105.14 223.00L102.64 220.50Z" fill="#000"/>
<line x1="116.28" y1="208.00" x2="116.28" y2="210.80" stroke="#000" stroke-width="1.5"/>
<line x1="114.08" y1="208.00" x2="118.48" y2="208.00" stroke="#000" stroke-width="1.2"/>
<line x1="114.08" y1="210.80" x2="118.48" y2="210.80" stroke="#000" stroke-width="1.2"/>
<rect x="114.78" y="207.90" width="3.00" height="3.00" fill="#fff" stroke="#000" stroke-width="1.25"/>
<line x1="116.28" y1="209.20" x2="116.28" y2="212.00" stroke="#000" stroke-width="1.5"/>
<line x1="114.08" y1="209.20" x2="118.48" y2="209.20" stroke="#000" stroke-width="1.2"/>
<line x1="114.08" y1="212.00" x2="118.48" y2="212.00" stroke="#000" stroke-width="1.2"/>
<path d="M116.28 208.10L118.78 210.60L116.28 213.10L113.78 210.60Z" fill="#000"/>
<circle cx="127.42" cy="207.00" r="1.55" fill="#fff" stroke="#000" stroke-width="1.35"/>
<line x1="127.42" y1="209.00" x2="127.42" y2="211.40" stroke="#000" stroke-width="1.5"/>
<line x1="125.22" y1="209.00" x2="129.62" y2="209.00" stroke="#000" stroke-width="1.2"/>
<line x1="125.22" y1="211.40" x2="129.62" y2="211.40" stroke="#000" stroke-width="1.2"/>
<path d="M127.42 207.70L129.92 210.20L127.42 212.70L124.92 210.20Z" fill="#000"/>
<line x1="138.56" y1="225.80" x2="138.56" y2="227.80" stroke="#000" stroke-width="1.5"/>
<line x1="136.36" y1="225.80" x2="140.76" y2="225.80" stroke="#000" stroke-width="1.2"/>
<line x1="136.36" y1="227.80" x2="140.76" y2="227.80" stroke="#000" stroke-width="1.2"/>
<rect x="137.06" y="225.30" width="3.00" height="3.00" fill="#fff" stroke="#000" stroke-width="1.25"/>
<line x1="138.56" y1="226.20" x2="138.56" y2="228.20" stroke="#000" stroke-width="1.5"/>
<line x1="136.36" y1="226.20" x2="140.76" y2="226.20" stroke="#000" stroke-width="1.2"/>
<line x1="136.36" y1="228.20" x2="140.76" y2="228.20" stroke="#000" stroke-width="1.2"/>
<path d="M138.56 224.70L141.06 227.20L138.56 229.70L136.06 227.20Z" fill="#000"/>
<line x1="149.70" y1="242.50" x2="149.70" y2="247.90" stroke="#000" stroke-width="1.5"/>
<line x1="147.50" y1="242.50" x2="151.90" y2="242.50" stroke="#000" stroke-width="1.2"/>
<line x1="147.50" y1="247.90" x2="151.90" y2="247.90" stroke="#000" stroke-width="1.2"/>
<rect x="148.20" y="243.70" width="3.00" height="3.00" fill="#fff" stroke="#000" stroke-width="1.25"/>
<line x1="149.70" y1="253.20" x2="149.70" y2="258.00" stroke="#000" stroke-width="1.5"/>
<line x1="147.50" y1="253.20" x2="151.90" y2="253.20" stroke="#000" stroke-width="1.2"/>
<line x1="147.50" y1="258.00" x2="151.90" y2="258.00" stroke="#000" stroke-width="1.2"/>
<path d="M149.70 253.10L152.20 255.60L149.70 258.10L147.20 255.60Z" fill="#000"/>
<line x1="160.84" y1="253.40" x2="160.84" y2="259.40" stroke="#000" stroke-width="1.5"/>
<line x1="158.64" y1="253.40" x2="163.04" y2="253.40" stroke="#000" stroke-width="1.2"/>
<line x1="158.64" y1="259.40" x2="163.04" y2="259.40" stroke="#000" stroke-width="1.2"/>
<rect x="159.34" y="254.90" width="3.00" height="3.00" fill="#fff" stroke="#000" stroke-width="1.25"/>
<line x1="160.84" y1="276.20" x2="160.84" y2="280.60" stroke="#000" stroke-width="1.5"/>
<line x1="158.64" y1="276.20" x2="163.04" y2="276.20" stroke="#000" stroke-width="1.2"/>
<line x1="158.64" y1="280.60" x2="163.04" y2="280.60" stroke="#000" stroke-width="1.2"/>
<path d="M160.84 275.90L163.34 278.40L160.84 280.90L158.34 278.40Z" fill="#000"/>
<rect x="170.48" y="264.70" width="3.00" height="3.00" fill="#fff" stroke="#000" stroke-width="1.25"/>
<line x1="171.98" y1="281.60" x2="171.98" y2="284.00" stroke="#000" stroke-width="1.5"/>
<line x1="169.78" y1="281.60" x2="174.18" y2="281.60" stroke="#000" stroke-width="1.2"/>
<line x1="169.78" y1="284.00" x2="174.18" y2="284.00" stroke="#000" stroke-width="1.2"/>
<path d="M171.98 280.30L174.48 282.80L171.98 285.30L169.48 282.80Z" fill="#000"/>
<line x1="183.12" y1="245.60" x2="183.12" y2="247.60" stroke="#000" stroke-width="1.5"/>
<line x1="180.92" y1="245.60" x2="185.32" y2="245.60" stroke="#000" stroke-width="1.2"/>
<line x1="180.92" y1="247.60" x2="185.32" y2="247.60" stroke="#000" stroke-width="1.2"/>
<path d="M183.12 244.10L185.62 246.60L183.12 249.10L180.62 246.60Z" fill="#000"/>
<line x1="183.12" y1="268.00" x2="183.12" y2="273.20" stroke="#000" stroke-width="1.5"/>
<line x1="180.92" y1="268.00" x2="185.32" y2="268.00" stroke="#000" stroke-width="1.2"/>
<line x1="180.92" y1="273.20" x2="185.32" y2="273.20" stroke="#000" stroke-width="1.2"/>
<rect x="181.62" y="269.10" width="3.00" height="3.00" fill="#fff" stroke="#000" stroke-width="1.25"/>
<circle cx="194.26" cy="229.00" r="1.55" fill="#fff" stroke="#000" stroke-width="1.35"/>
<circle cx="194.26" cy="248.50" r="2.25" fill="#000"/>
<line x1="342.00" y1="196.60" x2="342.00" y2="331.75" stroke="#000" stroke-width="1.6"/>
<line x1="341.20" y1="331.15" x2="595.70" y2="331.15" stroke="#000" stroke-width="1.3"/>
<line x1="353.10" y1="331.15" x2="353.10" y2="327.95" stroke="#000" stroke-width="1.0"/>
<line x1="364.13" y1="331.15" x2="364.13" y2="327.95" stroke="#000" stroke-width="1.0"/>
<line x1="375.16" y1="331.15" x2="375.16" y2="327.95" stroke="#000" stroke-width="1.0"/>
<line x1="386.19" y1="331.15" x2="386.19" y2="327.95" stroke="#000" stroke-width="1.0"/>
<line x1="397.22" y1="331.15" x2="397.22" y2="327.95" stroke="#000" stroke-width="1.0"/>
<line x1="408.25" y1="331.15" x2="408.25" y2="327.95" stroke="#000" stroke-width="1.0"/>
<line x1="419.28" y1="331.15" x2="419.28" y2="327.95" stroke="#000" stroke-width="1.0"/>
<line x1="430.31" y1="331.15" x2="430.31" y2="327.95" stroke="#000" stroke-width="1.0"/>
<line x1="441.34" y1="331.15" x2="441.34" y2="327.95" stroke="#000" stroke-width="1.0"/>
<line x1="452.37" y1="331.15" x2="452.37" y2="327.95" stroke="#000" stroke-width="1.0"/>
<line x1="463.40" y1="331.15" x2="463.40" y2="327.95" stroke="#000" stroke-width="1.0"/>
<line x1="474.43" y1="331.15" x2="474.43" y2="327.95" stroke="#000" stroke-width="1.0"/>
<line x1="485.46" y1="331.15" x2="485.46" y2="327.95" stroke="#000" stroke-width="1.0"/>
<line x1="496.49" y1="331.15" x2="496.49" y2="327.95" stroke="#000" stroke-width="1.0"/>
<line x1="507.52" y1="331.15" x2="507.52" y2="327.95" stroke="#000" stroke-width="1.0"/>
<line x1="518.55" y1="331.15" x2="518.55" y2="327.95" stroke="#000" stroke-width="1.0"/>
<line x1="529.58" y1="331.15" x2="529.58" y2="327.95" stroke="#000" stroke-width="1.0"/>
<line x1="540.61" y1="331.15" x2="540.61" y2="327.95" stroke="#000" stroke-width="1.0"/>
<line x1="551.64" y1="331.15" x2="551.64" y2="327.95" stroke="#000" stroke-width="1.0"/>
<line x1="562.67" y1="331.15" x2="562.67" y2="327.95" stroke="#000" stroke-width="1.0"/>
<line x1="573.70" y1="331.15" x2="573.70" y2="327.95" stroke="#000" stroke-width="1.0"/>
<line x1="584.73" y1="331.15" x2="584.73" y2="327.95" stroke="#000" stroke-width="1.0"/>
<line x1="595.76" y1="331.15" x2="595.76" y2="327.95" stroke="#000" stroke-width="1.0"/>
<line x1="342.00" y1="203.60" x2="345.60" y2="203.60" stroke="#000" stroke-width="1.4"/>
<line x1="342.00" y1="236.20" x2="344.00" y2="236.20" stroke="#000" stroke-width="1.4"/>
<line x1="342.00" y1="267.50" x2="345.60" y2="267.50" stroke="#000" stroke-width="1.4"/>
<line x1="342.00" y1="299.20" x2="344.00" y2="299.20" stroke="#000" stroke-width="1.4"/>
<text x="351.80" y="341.30" font-size="8.7" text-anchor="middle" font-weight="normal" font-family='"Liberation Sans", sans-serif' >Q1</text>
<text x="373.00" y="340.50" font-size="8.7" text-anchor="middle" font-weight="normal" font-family='"Liberation Sans", sans-serif' >Q3</text>
<text x="394.50" y="340.90" font-size="8.7" text-anchor="middle" font-weight="normal" font-family='"Liberation Sans", sans-serif' >Q5</text>
<text x="416.80" y="341.30" font-size="8.7" text-anchor="middle" font-weight="normal" font-family='"Liberation Sans", sans-serif' >Q7</text>
<text x="438.20" y="341.50" font-size="8.7" text-anchor="middle" font-weight="normal" font-family='"Liberation Sans", sans-serif' >Q9</text>
<text x="458.40" y="341.50" font-size="8.7" text-anchor="middle" font-weight="normal" font-family='"Liberation Sans", sans-serif' >Q11</text>
<text x="481.00" y="341.50" font-size="8.7" text-anchor="middle" font-weight="normal" font-family='"Liberation Sans", sans-serif' >Q13</text>
<text x="504.40" y="341.30" font-size="8.7" text-anchor="middle" font-weight="normal" font-family='"Liberation Sans", sans-serif' >Q15</text>
<text x="408.00" y="356.40" font-size="8.5" text-anchor="start" font-weight="normal" font-family='"Liberation Sans", sans-serif' style="stroke-width:0.5px">Experiment Designator</text>
<text x="354.25" y="325.00" font-size="11.5" text-anchor="middle" font-weight="bold" font-family='"Liberation Serif", serif' style="stroke-width:0.15px">d</text>
<text x="338.00" y="205.90" font-size="8.5" text-anchor="end" font-weight="normal" font-family='"Liberation Sans", sans-serif' >1.0</text>
<text x="338.00" y="269.10" font-size="8.5" text-anchor="end" font-weight="normal" font-family='"Liberation Sans", sans-serif' >0.0</text>
<text x="338.40" y="333.00" font-size="8.5" text-anchor="end" font-weight="normal" font-family='"Liberation Sans", sans-serif' >-1.0</text>
<circle cx="524.50" cy="294.50" r="1.50" fill="#fff" stroke="#000" stroke-width="1.50"/>
<path d="M524.70 302.80L527.30 305.40L524.70 308.00L522.10 305.40Z" fill="#000"/>
<text x="536.90" y="297.90" font-size="8.3" text-anchor="start" font-weight="normal" font-family='"Liberation Sans", sans-serif' style="stroke-width:0.45px">Rx&#160;&#160;|| flow</text>
<text x="536.90" y="309.20" font-size="8.3" text-anchor="start" font-weight="normal" font-family='"Liberation Sans", sans-serif' style="stroke-width:0.45px">Rx&#8201;&#8869;&#160;flow</text>
<rect x="351.40" y="247.50" width="3.00" height="3.00" fill="#fff" stroke="#000" stroke-width="1.25"/>
<line x1="352.90" y1="244.70" x2="352.90" y2="257.90" stroke="#000" stroke-width="1.5"/>
<line x1="350.70" y1="244.70" x2="355.10" y2="244.70" stroke="#000" stroke-width="1.2"/>
<line x1="350.70" y1="257.90" x2="355.10" y2="257.90" stroke="#000" stroke-width="1.2"/>
<path d="M352.90 248.80L355.40 251.30L352.90 253.80L350.40 251.30Z" fill="#000"/>
<circle cx="364.02" cy="278.60" r="1.55" fill="#fff" stroke="#000" stroke-width="1.35"/>
<line x1="364.02" y1="281.80" x2="364.02" y2="283.80" stroke="#000" stroke-width="1.5"/>
<line x1="361.82" y1="281.80" x2="366.22" y2="281.80" stroke="#000" stroke-width="1.2"/>
<line x1="361.82" y1="283.80" x2="366.22" y2="283.80" stroke="#000" stroke-width="1.2"/>
<path d="M364.02 280.30L366.52 282.80L364.02 285.30L361.52 282.80Z" fill="#000"/>
<line x1="375.14" y1="282.00" x2="375.14" y2="287.20" stroke="#000" stroke-width="1.5"/>
<line x1="372.94" y1="282.00" x2="377.34" y2="282.00" stroke="#000" stroke-width="1.2"/>
<line x1="372.94" y1="287.20" x2="377.34" y2="287.20" stroke="#000" stroke-width="1.2"/>
<rect x="373.64" y="283.10" width="3.00" height="3.00" fill="#fff" stroke="#000" stroke-width="1.25"/>
<line x1="375.14" y1="283.00" x2="375.14" y2="289.00" stroke="#000" stroke-width="1.5"/>
<line x1="372.94" y1="283.00" x2="377.34" y2="283.00" stroke="#000" stroke-width="1.2"/>
<line x1="372.94" y1="289.00" x2="377.34" y2="289.00" stroke="#000" stroke-width="1.2"/>
<path d="M375.14 283.50L377.64 286.00L375.14 288.50L372.64 286.00Z" fill="#000"/>
<circle cx="386.26" cy="277.80" r="1.55" fill="#fff" stroke="#000" stroke-width="1.35"/>
<line x1="386.26" y1="280.20" x2="386.26" y2="283.40" stroke="#000" stroke-width="1.5"/>
<line x1="384.06" y1="280.20" x2="388.46" y2="280.20" stroke="#000" stroke-width="1.2"/>
<line x1="384.06" y1="283.40" x2="388.46" y2="283.40" stroke="#000" stroke-width="1.2"/>
<path d="M386.26 279.30L388.76 281.80L386.26 284.30L383.76 281.80Z" fill="#000"/>
<line x1="397.38" y1="271.30" x2="397.38" y2="280.10" stroke="#000" stroke-width="1.5"/>
<line x1="395.18" y1="271.30" x2="399.58" y2="271.30" stroke="#000" stroke-width="1.2"/>
<line x1="395.18" y1="280.10" x2="399.58" y2="280.10" stroke="#000" stroke-width="1.2"/>
<circle cx="397.38" cy="275.70" r="1.55" fill="#fff" stroke="#000" stroke-width="1.35"/>
<line x1="397.38" y1="303.90" x2="397.38" y2="309.90" stroke="#000" stroke-width="1.5"/>
<line x1="395.18" y1="303.90" x2="399.58" y2="303.90" stroke="#000" stroke-width="1.2"/>
<line x1="395.18" y1="309.90" x2="399.58" y2="309.90" stroke="#000" stroke-width="1.2"/>
<path d="M397.38 304.40L399.88 306.90L397.38 309.40L394.88 306.90Z" fill="#000"/>
<line x1="408.50" y1="282.40" x2="408.50" y2="284.80" stroke="#000" stroke-width="1.5"/>
<line x1="406.30" y1="282.40" x2="410.70" y2="282.40" stroke="#000" stroke-width="1.2"/>
<line x1="406.30" y1="284.80" x2="410.70" y2="284.80" stroke="#000" stroke-width="1.2"/>
<rect x="407.00" y="282.10" width="3.00" height="3.00" fill="#fff" stroke="#000" stroke-width="1.25"/>
<line x1="408.50" y1="285.60" x2="408.50" y2="288.00" stroke="#000" stroke-width="1.5"/>
<line x1="406.30" y1="285.60" x2="410.70" y2="285.60" stroke="#000" stroke-width="1.2"/>
<line x1="406.30" y1="288.00" x2="410.70" y2="288.00" stroke="#000" stroke-width="1.2"/>
<path d="M408.50 284.30L411.00 286.80L408.50 289.30L406.00 286.80Z" fill="#000"/>
<line x1="419.62" y1="287.60" x2="419.62" y2="290.80" stroke="#000" stroke-width="1.5"/>
<line x1="417.42" y1="287.60" x2="421.82" y2="287.60" stroke="#000" stroke-width="1.2"/>
<line x1="417.42" y1="290.80" x2="421.82" y2="290.80" stroke="#000" stroke-width="1.2"/>
<rect x="418.12" y="287.70" width="3.00" height="3.00" fill="#fff" stroke="#000" stroke-width="1.25"/>
<line x1="419.62" y1="292.00" x2="419.62" y2="299.20" stroke="#000" stroke-width="1.5"/>
<line x1="417.42" y1="292.00" x2="421.82" y2="292.00" stroke="#000" stroke-width="1.2"/>
<line x1="417.42" y1="299.20" x2="421.82" y2="299.20" stroke="#000" stroke-width="1.2"/>
<path d="M419.62 293.10L422.12 295.60L419.62 298.10L417.12 295.60Z" fill="#000"/>
<line x1="430.74" y1="280.00" x2="430.74" y2="282.80" stroke="#000" stroke-width="1.5"/>
<line x1="428.54" y1="280.00" x2="432.94" y2="280.00" stroke="#000" stroke-width="1.2"/>
<line x1="428.54" y1="282.80" x2="432.94" y2="282.80" stroke="#000" stroke-width="1.2"/>
<rect x="429.24" y="279.90" width="3.00" height="3.00" fill="#fff" stroke="#000" stroke-width="1.25"/>
<line x1="430.74" y1="280.80" x2="430.74" y2="283.60" stroke="#000" stroke-width="1.5"/>
<line x1="428.54" y1="280.80" x2="432.94" y2="280.80" stroke="#000" stroke-width="1.2"/>
<line x1="428.54" y1="283.60" x2="432.94" y2="283.60" stroke="#000" stroke-width="1.2"/>
<path d="M430.74 279.70L433.24 282.20L430.74 284.70L428.24 282.20Z" fill="#000"/>
<circle cx="441.86" cy="242.30" r="2.25" fill="#000"/>
<circle cx="441.86" cy="250.00" r="1.55" fill="#fff" stroke="#000" stroke-width="1.35"/>
<line x1="452.98" y1="219.20" x2="452.98" y2="224.00" stroke="#000" stroke-width="1.5"/>
<line x1="450.78" y1="219.20" x2="455.18" y2="219.20" stroke="#000" stroke-width="1.2"/>
<line x1="450.78" y1="224.00" x2="455.18" y2="224.00" stroke="#000" stroke-width="1.2"/>
<rect x="451.48" y="220.10" width="3.00" height="3.00" fill="#fff" stroke="#000" stroke-width="1.25"/>
<line x1="452.98" y1="220.20" x2="452.98" y2="225.00" stroke="#000" stroke-width="1.5"/>
<line x1="450.78" y1="220.20" x2="455.18" y2="220.20" stroke="#000" stroke-width="1.2"/>
<line x1="450.78" y1="225.00" x2="455.18" y2="225.00" stroke="#000" stroke-width="1.2"/>
<path d="M452.98 220.10L455.48 222.60L452.98 225.10L450.48 222.60Z" fill="#000"/>
<line x1="464.10" y1="208.20" x2="464.10" y2="212.20" stroke="#000" stroke-width="1.5"/>
<line x1="461.90" y1="208.20" x2="466.30" y2="208.20" stroke="#000" stroke-width="1.2"/>
<line x1="461.90" y1="212.20" x2="466.30" y2="212.20" stroke="#000" stroke-width="1.2"/>
<rect x="462.60" y="208.70" width="3.00" height="3.00" fill="#fff" stroke="#000" stroke-width="1.25"/>
<line x1="464.10" y1="212.40" x2="464.10" y2="216.80" stroke="#000" stroke-width="1.5"/>
<line x1="461.90" y1="212.40" x2="466.30" y2="212.40" stroke="#000" stroke-width="1.2"/>
<line x1="461.90" y1="216.80" x2="466.30" y2="216.80" stroke="#000" stroke-width="1.2"/>
<path d="M464.10 212.10L466.60 214.60L464.10 217.10L461.60 214.60Z" fill="#000"/>
<line x1="475.22" y1="208.60" x2="475.22" y2="214.60" stroke="#000" stroke-width="1.5"/>
<line x1="473.02" y1="208.60" x2="477.42" y2="208.60" stroke="#000" stroke-width="1.2"/>
<line x1="473.02" y1="214.60" x2="477.42" y2="214.60" stroke="#000" stroke-width="1.2"/>
<rect x="473.72" y="210.10" width="3.00" height="3.00" fill="#fff" stroke="#000" stroke-width="1.25"/>
<line x1="475.22" y1="211.00" x2="475.22" y2="215.80" stroke="#000" stroke-width="1.5"/>
<line x1="473.02" y1="211.00" x2="477.42" y2="211.00" stroke="#000" stroke-width="1.2"/>
<line x1="473.02" y1="215.80" x2="477.42" y2="215.80" stroke="#000" stroke-width="1.2"/>
<path d="M475.22 210.90L477.72 213.40L475.22 215.90L472.72 213.40Z" fill="#000"/>
<line x1="486.34" y1="207.40" x2="486.34" y2="212.60" stroke="#000" stroke-width="1.5"/>
<line x1="484.14" y1="207.40" x2="488.54" y2="207.40" stroke="#000" stroke-width="1.2"/>
<line x1="484.14" y1="212.60" x2="488.54" y2="212.60" stroke="#000" stroke-width="1.2"/>
<rect x="484.84" y="208.50" width="3.00" height="3.00" fill="#fff" stroke="#000" stroke-width="1.25"/>
<line x1="486.34" y1="208.40" x2="486.34" y2="213.60" stroke="#000" stroke-width="1.5"/>
<line x1="484.14" y1="208.40" x2="488.54" y2="208.40" stroke="#000" stroke-width="1.2"/>
<line x1="484.14" y1="213.60" x2="488.54" y2="213.60" stroke="#000" stroke-width="1.2"/>
<path d="M486.34 208.50L488.84 211.00L486.34 213.50L483.84 211.00Z" fill="#000"/>
<line x1="497.46" y1="204.60" x2="497.46" y2="209.40" stroke="#000" stroke-width="1.5"/>
<line x1="495.26" y1="204.60" x2="499.66" y2="204.60" stroke="#000" stroke-width="1.2"/>
<line x1="495.26" y1="209.40" x2="499.66" y2="209.40" stroke="#000" stroke-width="1.2"/>
<rect x="495.96" y="205.50" width="3.00" height="3.00" fill="#fff" stroke="#000" stroke-width="1.25"/>
<line x1="497.46" y1="207.40" x2="497.46" y2="212.60" stroke="#000" stroke-width="1.5"/>
<line x1="495.26" y1="207.40" x2="499.66" y2="207.40" stroke="#000" stroke-width="1.2"/>
<line x1="495.26" y1="212.60" x2="499.66" y2="212.60" stroke="#000" stroke-width="1.2"/>
<path d="M497.46 207.50L499.96 210.00L497.46 212.50L494.96 210.00Z" fill="#000"/>
<circle cx="508.58" cy="208.00" r="2.25" fill="#000"/>
<rect x="507.08" y="216.50" width="3.00" height="3.00" fill="#fff" stroke="#000" stroke-width="1.25"/>
<line x1="0.20" y1="175.30" x2="2.80" y2="174.30" stroke="#000" stroke-width="1.3"/>
</svg>
</body></html>
